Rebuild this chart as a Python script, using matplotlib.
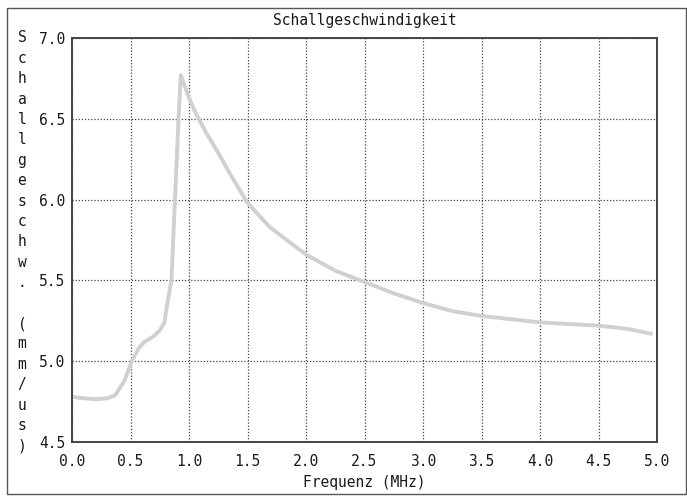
import numpy as np
import matplotlib.pyplot as plt
from matplotlib.patches import Rectangle

freq = [0.0, 0.1, 0.2, 0.3, 0.37, 0.45, 0.51, 0.57, 0.62, 0.69, 0.75, 0.79,
        0.82, 0.85, 0.88, 0.91, 0.93, 0.96, 1.0, 1.06, 1.15, 1.25, 1.35, 1.5, 1.69,
        2.0, 2.25, 2.5, 2.75, 3.0, 3.25, 3.5, 3.75, 4.0, 4.25, 4.5, 4.75, 4.95]
speed = [4.78, 4.77, 4.765, 4.77, 4.79, 4.88, 5.0, 5.08, 5.12, 5.15, 5.19, 5.24,
         5.38, 5.5, 6.0, 6.49, 6.77, 6.71, 6.63, 6.53, 6.41, 6.29, 6.16, 5.98, 5.83,
         5.66, 5.56, 5.49, 5.42, 5.36, 5.31, 5.28, 5.26, 5.24, 5.23, 5.22, 5.20, 5.17]

x_ticks = [0.0, 0.5, 1.0, 1.5, 2.0, 2.5, 3.0, 3.5, 4.0, 4.5, 5.0]
y_ticks = [4.5, 5.0, 5.5, 6.0, 6.5, 7.0]
title = 'Schallgeschwindigkeit'
x_label = 'Frequenz (MHz)'
y_label = 'Schallgeschw. (mm/us)'

W, H = 687, 496
mono = 'DejaVu Sans Mono'
fs = 10.5
txt = '#1a1a1a'

fig = plt.figure(figsize=(W / 100, H / 100), dpi=100)
ax = fig.add_axes([72 / W, 1 - 442 / H, 585 / W, 404 / H])

ax.plot(freq, speed, color='#d0d0d0', lw=2.8, solid_capstyle='round')

ax.set_xlim(0, 5)
ax.set_ylim(4.5, 7.0)
ax.set_xticks(x_ticks)
ax.set_yticks(y_ticks)
ax.set_xticklabels([f'{v:.1f}' for v in x_ticks], fontfamily=mono, fontsize=fs, color=txt)
ax.set_yticklabels([f'{v:.1f}' for v in y_ticks], fontfamily=mono, fontsize=fs, color=txt)
ax.tick_params(axis='y', length=0, pad=5)
ax.tick_params(axis='x', length=0, pad=9)
ax.grid(True, ls=(0, (1, 1.5)), color='#444444', lw=0.9)
for s in ax.spines.values():
    s.set_color('#444444')
    s.set_linewidth(1.4)

ax.set_title(title, fontfamily=mono, fontsize=fs, color=txt, pad=9)
ax.set_xlabel(x_label, fontfamily=mono, fontsize=fs, color=txt, labelpad=4)

# y label written one character per line
for i, ch in enumerate(y_label):
    fig.text(22 / W, 1 - (38 + i * 20.4) / H, ch, fontfamily=mono, fontsize=fs,
             color=txt, ha='center', va='center')

# outer frame
fig.add_artist(Rectangle((7 / W, 1 - 494 / H), 679 / W, 486 / H,
                         transform=fig.transFigure, fill=False,
                         ec='#555555', lw=1.0))

fig.savefig('out.png', dpi=100)
